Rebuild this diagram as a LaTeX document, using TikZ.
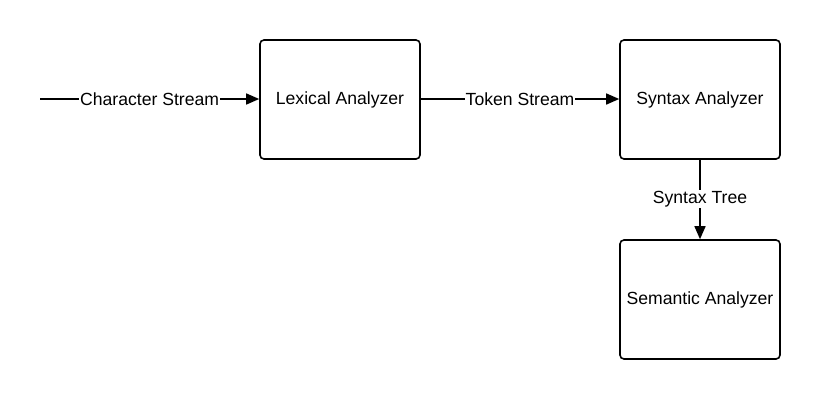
\documentclass[tikz,border=0pt]{standalone}
\usepackage{fontspec}
\setmainfont{Liberation Sans}
\usetikzlibrary{arrows.meta}
\begin{document}
\begin{tikzpicture}[x=1pt,y=-1pt,
  box/.style={draw, line width=1.6pt, rounded corners=4pt, minimum width=160pt, minimum height=119pt, inner sep=0pt, font=\fontsize{17.6}{20}\selectfont},
  conn/.style={line width=1.5pt, -{Triangle[length=13pt,width=11pt]}},
  lbl/.style={fill=white, inner sep=1pt, font=\fontsize{17.6}{20}\selectfont}]
\useasboundingbox (0,0) rectangle (820,400);
\node[box] (lex) at (340,99.5) {Lexical Analyzer};
\node[box] (syn) at (700,99.5) {Syntax Analyzer};
\node[box] (sem) at (700,299.5) {Semantic Analyzer};
\coordinate (start) at (40,99);
\draw[conn] (start) -- node[lbl] {Character Stream} (lex.west |- start);
\draw[conn] (lex.east |- start) -- node[lbl] {Token Stream} (syn.west |- start);
\draw[conn] (syn.south) -- node[lbl, pos=0.49] {Syntax Tree} (sem.north);
\end{tikzpicture}
\end{document}
